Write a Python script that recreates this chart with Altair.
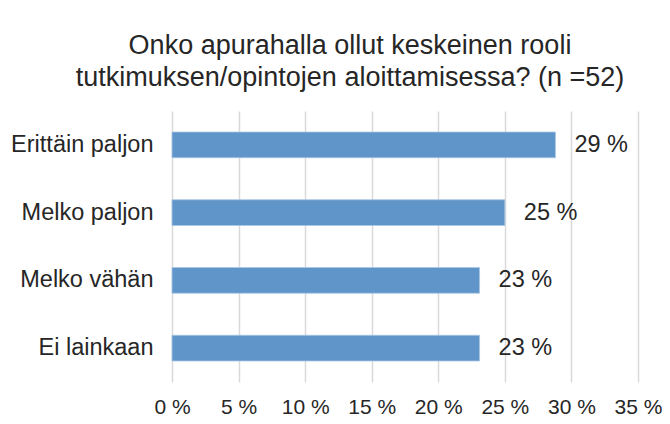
import altair as alt
import pandas as pd

categories = ["Erittäin paljon", "Melko paljon", "Melko vähän", "Ei lainkaan"]
values = [28.8, 25.0, 23.1, 23.1]
tick_values = [0, 5, 10, 15, 20, 25, 30, 35]

df = pd.DataFrame({"cat": categories, "val": values})

FONT = "Liberation Sans"

base = alt.Chart(df).encode(
    y=alt.Y("cat:N", sort=categories, title=None,
            scale=alt.Scale(paddingInner=0.62, paddingOuter=0.31),
            axis=alt.Axis(domain=False, ticks=False, labelFont=FONT,
                          labelFontSize=23.5, labelColor="#262626",
                          labelPadding=19, grid=False)),
)

bars = base.mark_bar(color="#5f95c9", stroke="#a9c6e3", strokeWidth=0.8).encode(
    x=alt.X("val:Q", title=None,
            scale=alt.Scale(domain=[0, 35], nice=False),
            axis=alt.Axis(values=tick_values, labelExpr="datum.value + ' %'",
                          domain=False, ticks=False, labelFont=FONT,
                          labelFontSize=21, labelColor="#262626",
                          labelOverlap=False, labelBound=False,
                          labelFlush=False,
                          labelPadding=14, grid=True, gridColor="#d9d9d9",
                          gridWidth=1.5)),
)

text = base.mark_text(align="left", baseline="middle", dx=19, font=FONT,
                      fontSize=23.5, color="#262626").transform_calculate(
    label="format(round(datum.val), 'd') + ' %'"
).encode(
    x="val:Q",
    text="label:N",
)

chart = (bars + text).properties(
    width=466,
    height=271,
    title=alt.TitleParams(
        text=["Onko apurahalla ollut keskeinen rooli",
              "tutkimuksen/opintojen aloittamisessa? (n =52)"],
        font=FONT, fontSize=27, fontWeight="normal", color="#262626",
        anchor="middle", dx=-55, offset=19, lineHeight=32,
    ),
    autosize=alt.AutoSizeParams(type="none"),
    padding={"left": 164, "top": 103, "right": 24, "bottom": 34},
).configure_view(stroke=None)

chart.save("out.html", embed_options={"renderer": "svg", "actions": False})
